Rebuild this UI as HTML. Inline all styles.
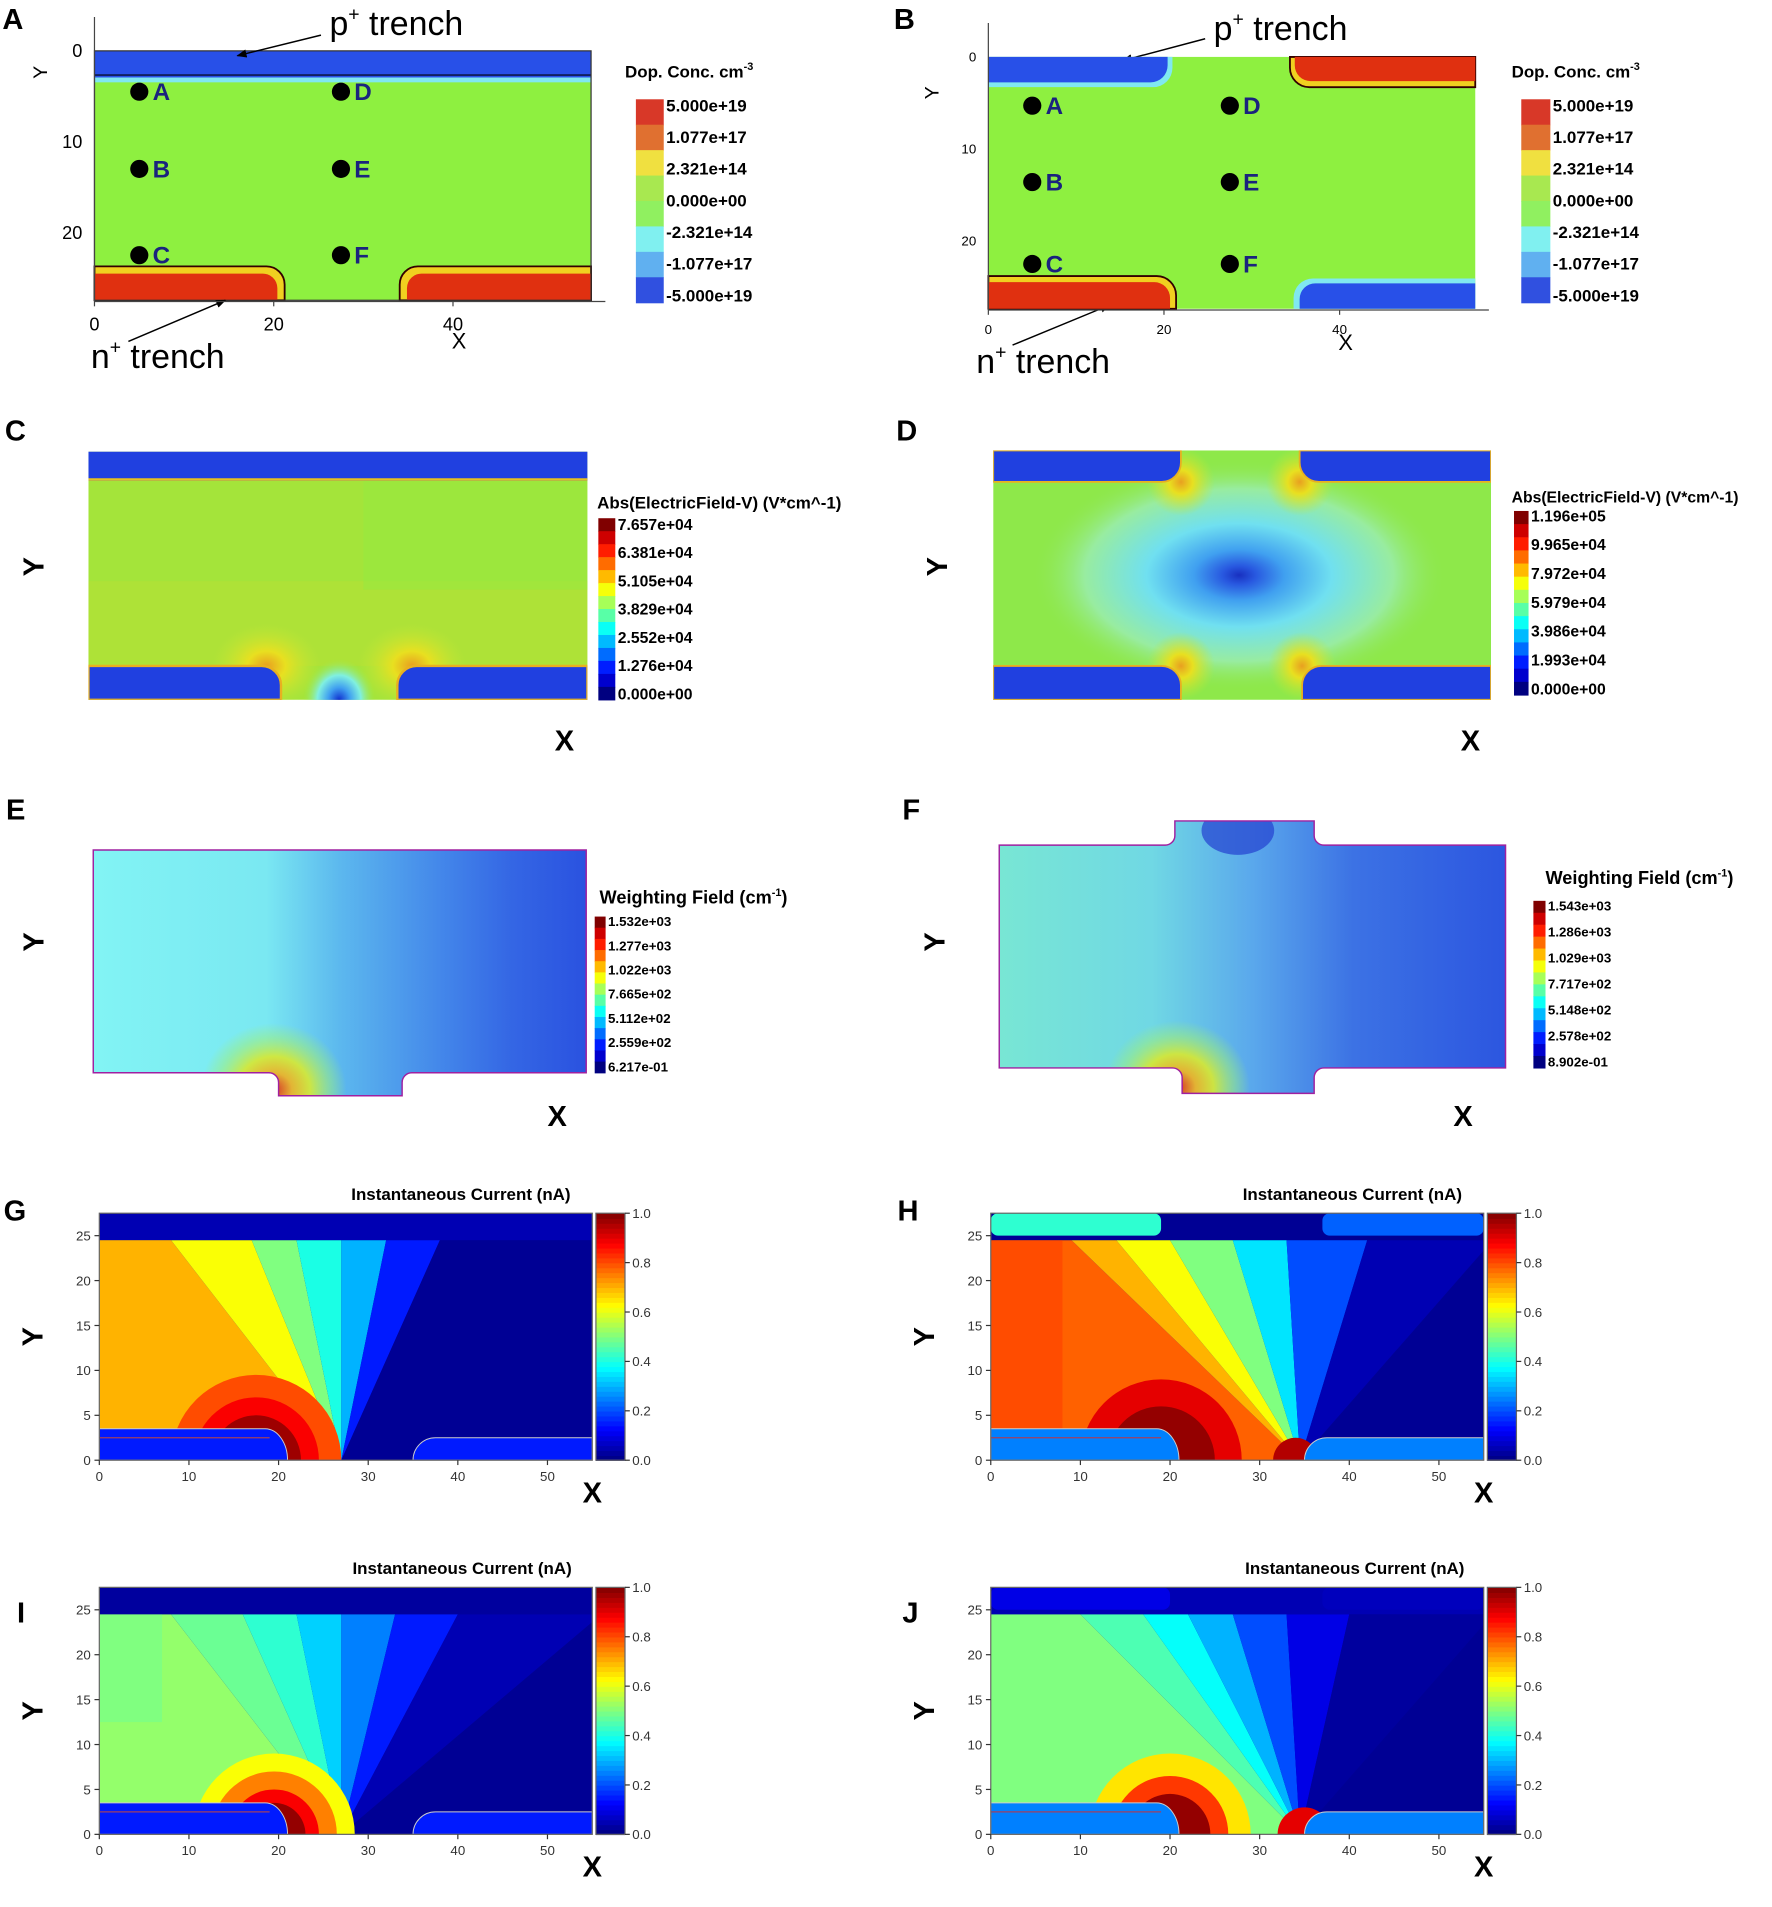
<!DOCTYPE html>
<html><head><meta charset="utf-8"><style>
html,body{margin:0;padding:0;background:#fff;}
svg{display:block;font-family:"Liberation Sans",sans-serif;}
</style></head><body>
<svg id="fig" width="1772" height="1907" viewBox="0 0 1463 1575" preserveAspectRatio="none" xmlns="http://www.w3.org/2000/svg">
<defs>
<marker id="arr" viewBox="0 0 10 10" refX="9" refY="5" markerWidth="7" markerHeight="7" orient="auto"><path d="M0,1 L10,5 L0,9 z" fill="#000"/></marker>
<linearGradient id="gE" x1="0" x2="1" y1="0" y2="0">
<stop offset="0" stop-color="#82f4f4"/><stop offset="0.35" stop-color="#7ae8f2"/><stop offset="0.5" stop-color="#5cb8ee"/><stop offset="0.7" stop-color="#4488ea"/><stop offset="0.85" stop-color="#3466e4"/><stop offset="1" stop-color="#2a52e0"/></linearGradient>
<linearGradient id="gF" x1="0" x2="1" y1="0" y2="0">
<stop offset="0" stop-color="#78e6d4"/><stop offset="0.3" stop-color="#70d8e4"/><stop offset="0.5" stop-color="#5aa8ec"/><stop offset="0.7" stop-color="#3c72e4"/><stop offset="1" stop-color="#2c56e0"/></linearGradient>
<radialGradient id="hot"><stop offset="0" stop-color="#e02010"/><stop offset="0.25" stop-color="#f0b020"/><stop offset="0.5" stop-color="#d8e830"/><stop offset="0.8" stop-color="#a0f070" stop-opacity="0.5"/><stop offset="1" stop-color="#a0f070" stop-opacity="0"/></radialGradient>
<radialGradient id="halo"><stop offset="0" stop-color="#e8a020"/><stop offset="0.35" stop-color="#e8e020"/><stop offset="1" stop-color="#c0e838" stop-opacity="0"/></radialGradient>
<radialGradient id="dspot"><stop offset="0" stop-color="#1830c0"/><stop offset="0.08" stop-color="#2858e0"/><stop offset="0.22" stop-color="#40a0f0"/><stop offset="0.45" stop-color="#70e0f0"/><stop offset="0.75" stop-color="#98eca0"/><stop offset="1" stop-color="#90e850" stop-opacity="0"/></radialGradient>
<radialGradient id="cspot"><stop offset="0" stop-color="#1030d0"/><stop offset="0.3" stop-color="#40a0f0"/><stop offset="0.6" stop-color="#80f0e0"/><stop offset="1" stop-color="#a0e840" stop-opacity="0"/></radialGradient>
<clipPath id="clipC"><rect x="73" y="373" width="412" height="205"/></clipPath>
<clipPath id="clipD"><rect x="820" y="372" width="411" height="206"/></clipPath>
<clipPath id="clipE"><path d="M77,702 H484 V886 H340 A8,8 0 0 0 332,894 V905 H230 V894 A8,8 0 0 0 222,886 H77 Z"/></clipPath>
<clipPath id="clipF"><path d="M825,698 H962 A8,8 0 0 0 970,690 V678 H1085 V690 A8,8 0 0 0 1093,698 H1243 V882 H1093 A8,8 0 0 0 1085,890 V903 H976 V890 A8,8 0 0 0 968,882 H825 Z"/></clipPath>
</defs>

<g font-weight="bold" font-size="24" fill="#000">
<text x="2" y="24">A</text>
<text x="738" y="24">B</text>
<text x="4" y="364">C</text>
<text x="740" y="364">D</text>
<text x="5" y="677">E</text>
<text x="745" y="677">F</text>
<text x="3" y="1008">G</text>
<text x="741" y="1008">H</text>
<text x="14" y="1340">I</text>
<text x="745" y="1340">J</text>
</g>

<!-- Panel A -->
<g>
<rect x="78" y="42" width="410" height="206" fill="#8ef040"/>
<rect x="78" y="42" width="410" height="22" fill="#2850e8"/>
<line x1="78" y1="62" x2="488" y2="62" stroke="#102060" stroke-width="1.5"/>
<rect x="78" y="64" width="410" height="4" fill="#80e8f0"/>
<path d="M78,220 H220 A15,15 0 0 1 235,235 V248 H78 Z" fill="#f0d020" stroke="#300" stroke-width="1.5"/>
<path d="M78,226 H216 A12,12 0 0 1 229,238 V248 H78 Z" fill="#e03010"/>
<path d="M488,220 H345 A15,15 0 0 0 330,235 V248 H488 Z" fill="#f0d020" stroke="#300" stroke-width="1.5"/>
<path d="M488,226 H349 A12,12 0 0 0 336,238 V248 H488 Z" fill="#e03010"/>
<rect x="78" y="42" width="410" height="206" fill="none" stroke="#333" stroke-width="1"/>
</g>
<g font-size="28" fill="#000">
<text x="272" y="29">p<tspan font-size="16" dy="-12">+</tspan><tspan dy="12"> trench</tspan></text>
<text x="75" y="304">n<tspan font-size="16" dy="-12">+</tspan><tspan dy="12"> trench</tspan></text>
<text x="1002" y="33">p<tspan font-size="16" dy="-12">+</tspan><tspan dy="12"> trench</tspan></text>
<text x="806" y="308">n<tspan font-size="16" dy="-12">+</tspan><tspan dy="12"> trench</tspan></text>
</g>
<line x1="265" y1="29" x2="196" y2="46" stroke="#000" stroke-width="1.2" marker-end="url(#arr)"/>
<line x1="106" y1="282" x2="186" y2="248" stroke="#000" stroke-width="1.2" marker-end="url(#arr)"/>
<line x1="995" y1="32" x2="927" y2="50" stroke="#000" stroke-width="1.2" marker-end="url(#arr)"/>
<line x1="836" y1="285" x2="916" y2="252" stroke="#000" stroke-width="1.2" marker-end="url(#arr)"/>

<!-- Panel B -->
<g>
<rect x="816" y="47" width="402" height="208" fill="#8ef040"/>
<path d="M816,47 H968 V56 A16,16 0 0 1 952,72 H816 Z" fill="#80e8f0"/>
<path d="M816,47 H964 V54 A14,14 0 0 1 950,68 H816 Z" fill="#2850e8"/>
<path d="M1218,47 H1065 V56 A16,16 0 0 0 1081,72 H1218 Z" fill="#f0d020" stroke="#300" stroke-width="1.5"/>
<path d="M1218,47 H1069 V54 A13,13 0 0 0 1082,67 H1218 Z" fill="#e03010"/>
<path d="M816,228 H955 A16,16 0 0 1 971,244 V255 H816 Z" fill="#f0d020" stroke="#300" stroke-width="1.5"/>
<path d="M816,233 H953 A13,13 0 0 1 966,246 V255 H816 Z" fill="#e03010"/>
<path d="M1218,230 H1084 A16,16 0 0 0 1068,246 V255 H1218 Z" fill="#80e8f0"/>
<path d="M1218,234 H1086 A13,13 0 0 0 1073,247 V255 H1218 Z" fill="#2850e8"/>
</g>
<g id="axesAB"></g>

<!-- Panel C -->
<g clip-path="url(#clipC)">
<rect x="73" y="373" width="412" height="205" fill="#a4e43a"/>
<rect x="73" y="480" width="412" height="70" fill="#b8e034" opacity="0.5"/>
<rect x="300" y="397" width="185" height="90" fill="#98ea40" opacity="0.6"/>
<ellipse cx="220" cy="550" rx="45" ry="35" fill="url(#halo)"/>
<ellipse cx="340" cy="550" rx="45" ry="35" fill="url(#halo)"/>
<ellipse cx="280" cy="578" rx="30" ry="34" fill="url(#cspot)"/>
<rect x="73" y="373" width="412" height="24" fill="#2040e0"/>
<line x1="73" y1="396" x2="485" y2="396" stroke="#e8c020" stroke-width="2"/>
<path d="M73,550 H216 A16,16 0 0 1 232,566 V578 H73 Z" fill="#2040e0" stroke="#e8b020" stroke-width="2"/>
<path d="M485,550 H344 A16,16 0 0 0 328,566 V578 H485 Z" fill="#2040e0" stroke="#e8b020" stroke-width="2"/>
</g>
<!-- Panel D -->
<g clip-path="url(#clipD)">
<rect x="820" y="372" width="411" height="206" fill="#8ee84a"/>
<ellipse cx="1023" cy="475" rx="170" ry="95" fill="url(#dspot)"/>
<ellipse cx="975" cy="398" rx="28" ry="28" fill="url(#halo)"/>
<ellipse cx="1073" cy="398" rx="28" ry="28" fill="url(#halo)"/>
<ellipse cx="975" cy="550" rx="28" ry="28" fill="url(#halo)"/>
<ellipse cx="1075" cy="550" rx="28" ry="28" fill="url(#halo)"/>
<path d="M820,372 H975 V382 A16,16 0 0 1 959,398 H820 Z" fill="#2040e0" stroke="#e8b020" stroke-width="1.5"/>
<path d="M1231,372 H1073 V382 A16,16 0 0 0 1089,398 H1231 Z" fill="#2040e0" stroke="#e8b020" stroke-width="1.5"/>
<path d="M820,550 H959 A16,16 0 0 1 975,566 V578 H820 Z" fill="#2040e0" stroke="#e8b020" stroke-width="1.5"/>
<path d="M1231,550 H1091 A16,16 0 0 0 1075,566 V578 H1231 Z" fill="#2040e0" stroke="#e8b020" stroke-width="1.5"/>
</g>
<!-- Panel E -->
<g>
<g clip-path="url(#clipE)">
<rect x="77" y="678" width="407" height="230" fill="url(#gE)"/>
<ellipse cx="226" cy="900" rx="60" ry="55" fill="url(#hot)" opacity="0.9"/>
</g>
<path d="M77,702 H484 V886 H340 A8,8 0 0 0 332,894 V905 H230 V894 A8,8 0 0 0 222,886 H77 Z" fill="none" stroke="#a020a0" stroke-width="1.2"/>
</g>
<!-- Panel F -->
<g>
<g clip-path="url(#clipF)">
<rect x="825" y="676" width="418" height="230" fill="url(#gF)"/>
<ellipse cx="1022" cy="686" rx="30" ry="20" fill="#2440d0" opacity="0.7"/>
<ellipse cx="972" cy="898" rx="60" ry="55" fill="url(#hot)" opacity="0.9"/>
</g>
<path d="M825,698 H962 A8,8 0 0 0 970,690 V678 H1085 V690 A8,8 0 0 0 1093,698 H1243 V882 H1093 A8,8 0 0 0 1085,890 V903 H976 V890 A8,8 0 0 0 968,882 H825 Z" fill="none" stroke="#a020a0" stroke-width="1.2"/>
</g>

<g id="colorbars"></g>
<g id="current"></g>
<g id="axisletters" font-weight="bold" font-size="24" fill="#000"></g>
</svg>
<script>
const NS="http://www.w3.org/2000/svg";
function mk(tag,attrs,parent,txt){const e=document.createElementNS(NS,tag);for(const k in attrs)e.setAttribute(k,attrs[k]);if(txt!==undefined)e.textContent=txt;parent.appendChild(e);return e;}
function jet(v){v=Math.max(0,Math.min(1,v));const r=Math.max(0,Math.min(1,1.5-Math.abs(4*v-3))),g=Math.max(0,Math.min(1,1.5-Math.abs(4*v-2))),b=Math.max(0,Math.min(1,1.5-Math.abs(4*v-1)));return `rgb(${Math.round(r*255)},${Math.round(g*255)},${Math.round(b*255)})`;}

// ---------- Data arrays ----------
const dotLabels=["A","B","C","D","E","F"];
const dotX=[5,5,5,27.5,27.5,27.5];
const dotYA=[4.5,13,22.5,4.5,13,22.5];
const dotYB=[5.3,13.6,22.5,5.3,13.6,22.5];
const ticksAxAB=[0,20,40];
const ticksAyAB=[0,10,20];
const dopLabels=["5.000e+19","1.077e+17","2.321e+14","0.000e+00","-2.321e+14","-1.077e+17","-5.000e+19"];
const dopColors=["#d83828","#e07030","#f0e040","#a8e850","#90f060","#80f0f0","#60b0f0","#3050e0"];
const efCLabels=["7.657e+04","6.381e+04","5.105e+04","3.829e+04","2.552e+04","1.276e+04","0.000e+00"];
const efDLabels=["1.196e+05","9.965e+04","7.972e+04","5.979e+04","3.986e+04","1.993e+04","0.000e+00"];
const wfELabels=["1.532e+03","1.277e+03","1.022e+03","7.665e+02","5.112e+02","2.559e+02","6.217e-01"];
const wfFLabels=["1.543e+03","1.286e+03","1.029e+03","7.717e+02","5.148e+02","2.578e+02","8.902e-01"];
const curTicksX=[0,10,20,30,40,50];
const curTicksY=[0,5,10,15,20,25];
const cbTicks=[0,0.2,0.4,0.6,0.8,1.0];
const gFanEdges=[0,8,17,22,27,32,38,56];
const gFanVals=[0.7,0.62,0.5,0.4,0.3,0.15,0.02];
const gHotR=[9.5,7,5];const gHotV=[0.8,0.88,0.97];
const hFanEdges=[0,9,14,20,27,33,42,56];
const hFanVals=[0.78,0.7,0.62,0.5,0.35,0.2,0.05];
const hHotR=[9,6];const hHotV=[0.9,0.98];
const iFanEdges=[0,8,16,22,27,33,40,56];
const iFanVals=[0.52,0.48,0.42,0.33,0.25,0.15,0.05];
const iHotR=[9,7,5,3.5];const iHotV=[0.62,0.75,0.88,0.98];
const jFanEdges=[0,10,17,22,27,33,40,56];
const jFanVals=[0.5,0.45,0.38,0.3,0.2,0.1,0.03];
const jHotR=[9,6.5,4.5];const jHotV=[0.65,0.82,0.98];

const ax=document.getElementById('axesAB');
function drawAB(p){
  const sx=v=>p.x0+v*p.kx, sy=v=>p.y0+v*p.ky;
  const g=mk('g',{},ax);
  
  
  mk('line',{x1:p.x0,y1:p.yb+1,x2:p.x0+57*p.kx,y2:p.yb+1,stroke:'#444','stroke-width':1},g);
  mk('line',{x1:p.x0,y1:p.y0-28,x2:p.x0,y2:p.yb+1,stroke:'#444','stroke-width':1},g);
  ticksAxAB.forEach(t=>{mk('line',{x1:sx(t),y1:p.yb+1,x2:sx(t),y2:p.yb+5,stroke:'#444'},g);
    const tl=mk('text',{x:sx(t),y:p.yb+p.fs+10,'font-size':p.fs,'text-anchor':'middle'},g,t);
    });
  ticksAyAB.forEach(t=>{const tl=mk('text',{x:p.x0-10,y:sy(t)+p.fs*0.35,'font-size':p.fs,'text-anchor':'end'},g,t);
    });
  for(let i=0;i<6;i++){const d=dotLabels[i];
    const c=mk('circle',{cx:sx(dotX[i]),cy:sy(p.dy[i]),r:7.5,fill:'#000'},g);
    
    const t=mk('text',{x:sx(dotX[i])+11,y:sy(p.dy[i])+7,'font-size':20,'font-weight':'bold',fill:'#1a237e'},g,d);
    }
  const X=mk('text',{x:p.xl[0],y:p.xl[1],'font-size':18},g,'X');
  const Y=mk('text',{x:0,y:0,'font-size':16,transform:`translate(${p.yl[0]},${p.yl[1]}) rotate(-90)`},g,'Y');
}
drawAB({name:'panel-a',x0:78,y0:42,kx:7.4,ky:7.5,yb:248,fs:15,dy:dotYA,xl:[373,288],yl:[39,65]});
drawAB({name:'panel-b',x0:816,y0:47,kx:7.25,ky:7.6,yb:255,fs:11,dy:dotYB,xl:[1105,289],yl:[775,82]});

const cbg=document.getElementById('colorbars');
function stepBar(p){
  const g=mk('g',{},cbg);
  
  
  const n=p.colors.length,h=(p.y1-p.y0)/n;
  p.colors.forEach((c,i)=>mk('rect',{x:p.x,y:p.y0+i*h,width:p.w,height:h+0.5,fill:c},g));
  const t=mk('text',{x:p.tx,y:p.ty,'font-size':p.tfs,'font-weight':'bold'},g);t.innerHTML=p.title;
  
  const m=p.labels.length;
  p.labels.forEach((l,i)=>{const yy=p.ly0+i*(p.ly1-p.ly0)/(m-1);
    const e=mk('text',{x:p.x+p.w+2,y:yy+p.lfs*0.35,'font-size':p.lfs,'font-weight':'bold'},g,l);
    });
}
const efColors=[];for(let i=0;i<14;i++)efColors.push(jet(1-i/13));
const wfColors=efColors;
stepBar({name:'colorbar-a',x:525,w:23,y0:82,y1:250,colors:dopColors,labels:dopLabels,ly0:87,ly1:244,lfs:14,title:'Dop. Conc. cm<tspan font-size="9" dy="-6">-3</tspan>',tx:516,ty:64,tfs:14});
stepBar({name:'colorbar-b',x:1256,w:24,y0:82,y1:250,colors:dopColors,labels:dopLabels,ly0:87,ly1:244,lfs:14,title:'Dop. Conc. cm<tspan font-size="9" dy="-6">-3</tspan>',tx:1248,ty:64,tfs:14});
stepBar({name:'colorbar-c',x:494,w:14,y0:428,y1:578,colors:efColors,labels:efCLabels,ly0:433,ly1:573,lfs:13,title:'Abs(ElectricField-V) (V*cm^-1)',tx:493,ty:420,tfs:14});
stepBar({name:'colorbar-d',x:1250,w:12,y0:422,y1:574,colors:efColors,labels:efDLabels,ly0:426,ly1:569,lfs:13,title:'Abs(ElectricField-V) (V*cm^-1)',tx:1248,ty:415,tfs:13});
stepBar({name:'colorbar-e',x:491,w:9,y0:757,y1:886,colors:wfColors,labels:wfELabels,ly0:761,ly1:881,lfs:11,title:'Weighting Field  (cm<tspan font-size="9" dy="-6">-1</tspan><tspan dy="6">)</tspan>',tx:495,ty:746,tfs:15});
stepBar({name:'colorbar-f',x:1266,w:10,y0:744,y1:882,colors:wfColors,labels:wfFLabels,ly0:748,ly1:877,lfs:11,title:'Weighting Field  (cm<tspan font-size="9" dy="-6">-1</tspan><tspan dy="6">)</tspan>',tx:1276,ty:730,tfs:15});

const al=document.getElementById('axisletters');
[[22,476,'Y','rotate'],[458,620,'X'],[768,476,'Y','rotate'],[1206,620,'X'],
 [22,786,'Y','rotate'],[452,930,'X'],[766,786,'Y','rotate'],[1200,930,'X']].forEach(a=>{
  const t=a[3]?mk('text',{transform:`translate(${a[0]+14},${a[1]-8}) rotate(-90)`,'text-anchor':'middle'},al,a[2]):mk('text',{x:a[0],y:a[1]},al,a[2]);
  
  
});

const cur=document.getElementById('current');
function currentPanel(p){
  const W=407,H=204;
  const sx=v=>p.x0+v*W/55, sy=v=>p.y0+H-v*H/27.5;
  const g=mk('g',{},cur);
  
  
  const cid='clip'+p.name;
  const cp=mk('clipPath',{id:cid},g);mk('rect',{x:p.x0,y:p.y0,width:W,height:H},cp);
  const f=mk('g',{'clip-path':`url(#${cid})`},g);
  mk('rect',{x:p.x0,y:p.y0,width:W,height:H,fill:jet(0.02)},f);
  for(let i=0;i<p.fan.vals.length;i++){
    const a=p.fan.edges[i],b=p.fan.edges[i+1];
    const fx=p.focus;
    const pts=[[fx,0],[a,24.5],[b,24.5]];
    if(i===0)pts.splice(1,0,[0,0],[0,24.5]);
    const poly=mk('polygon',{points:pts.map(q=>sx(q[0])+','+sy(q[1])).join(' '),fill:jet(p.fan.vals[i])},f);
    
    
  }
  if(p.left){const r=mk('rect',{x:sx(0),y:sy(p.left.top),width:sx(p.left.w)-sx(0),height:sy(p.left.bot)-sy(p.left.top),fill:jet(p.left.v)},f);
    }
  p.hot.r.forEach((r,i)=>{const c=mk('ellipse',{cx:sx(p.hot.x),cy:sy(0),rx:sx(r)-sx(0),ry:sy(0)-sy(r),fill:jet(p.hot.v[i])},f);
    });
  if(p.hot2){const c=mk('ellipse',{cx:sx(p.hot2[0]),cy:sy(0),rx:sx(p.hot2[1])-sx(0),ry:sy(0)-sy(p.hot2[1]),fill:jet(p.hot2[2])},f);
    }
  mk('rect',{x:p.x0,y:p.y0,width:W,height:sy(24.5)-p.y0,fill:p.topFill},f);
  (p.topTr||[]).forEach(t=>mk('rect',{x:sx(t[0]),y:p.y0,width:sx(t[1])-sx(t[0]),height:sy(25)-p.y0,fill:t[2],rx:6},f));
  mk('path',{d:`M${sx(0)},${sy(3.5)} H${sx(18.5)} A${sx(2.5)-sx(0)},${sy(0)-sy(3.5)} 0 0 1 ${sx(21)},${sy(0)} H${sx(0)} Z`,fill:p.trFill,stroke:'#ccc','stroke-width':0.8},f);
  mk('line',{x1:sx(0),y1:sy(2.5),x2:sx(19),y2:sy(2.5),stroke:'#a04060','stroke-width':1},f);
  mk('path',{d:`M${sx(55)},${sy(2.5)} H${sx(37.5)} A${sx(2.5)-sx(0)},${sy(0)-sy(2.5)} 0 0 0 ${sx(35)},${sy(0)} H${sx(55)} Z`,fill:p.trFill,stroke:'#ccc','stroke-width':0.8},f);
  mk('rect',{x:p.x0,y:p.y0,width:W,height:H,fill:'none',stroke:'#666','stroke-width':1},g);
  curTicksX.forEach(t=>{mk('line',{x1:sx(t),y1:p.y0+H,x2:sx(t),y2:p.y0+H+4,stroke:'#333'},g);
    const e=mk('text',{x:sx(t),y:p.y0+H+17,'font-size':11,'text-anchor':'middle',fill:'#333'},g,t);
    });
  curTicksY.forEach(t=>{mk('line',{x1:p.x0-4,y1:sy(t),x2:p.x0,y2:sy(t),stroke:'#333'},g);
    const e=mk('text',{x:p.x0-7,y:sy(t)+4,'font-size':11,'text-anchor':'end',fill:'#333'},g,t);
    });
  const cx=p.x0+W+3,cw=24;
  for(let i=0;i<50;i++)mk('rect',{x:cx,y:p.y0+H-(i+1)*H/50,width:cw,height:H/50+0.6,fill:jet((i+0.5)/50)},g);
  mk('rect',{x:cx,y:p.y0,width:cw,height:H,fill:'none',stroke:'#666'},g);
  cbTicks.forEach(t=>{const yy=p.y0+H-t*H;mk('line',{x1:cx+cw,y1:yy,x2:cx+cw+4,y2:yy,stroke:'#333'},g);
    const e=mk('text',{x:cx+cw+6,y:yy+4,'font-size':11,fill:'#333'},g,t.toFixed(1));
    });
  const ti=mk('text',{x:p.tx,y:p.y0-11,'font-size':14,'font-weight':'bold'},g,'Instantaneous Current (nA)');
  
  const X=mk('text',{x:p.x0+W-8,y:p.y0+H+35,'font-size':24,'font-weight':'bold'},g,'X');
  
  const Y=mk('text',{'font-size':24,'font-weight':'bold','text-anchor':'middle',transform:`translate(${p.x0-47},${p.y0+H/2}) rotate(-90)`},g,'Y');
  
}
currentPanel({name:'panel-g-current',x0:82,y0:1002,tx:290,focus:27,fan:{edges:gFanEdges,vals:gFanVals},left:{top:24.5,bot:12.5,w:8,v:0.7},
  hot:{x:17.5,r:gHotR,v:gHotV},topFill:jet(0.05),trFill:jet(0.15)});
currentPanel({name:'panel-h-current',x0:818,y0:1002,tx:1026,focus:34.5,fan:{edges:hFanEdges,vals:hFanVals},left:{top:24.5,bot:3.5,w:8,v:0.8},
  hot:{x:19,r:hHotR,v:hHotV},hot2:[34,2.5,0.95],topFill:jet(0.02),topTr:[[0,19,jet(0.42)],[37,55,jet(0.22)]],trFill:jet(0.25)});
currentPanel({name:'panel-i-current',x0:82,y0:1311,tx:291,focus:27,fan:{edges:iFanEdges,vals:iFanVals},left:{top:24.5,bot:12.5,w:7,v:0.5},
  hot:{x:19.5,r:iHotR,v:iHotV},topFill:jet(0.03),trFill:jet(0.15)});
currentPanel({name:'panel-j-current',x0:818,y0:1311,tx:1028,focus:34.5,fan:{edges:jFanEdges,vals:jFanVals},left:null,
  hot:{x:20,r:jHotR,v:jHotV},hot2:[35,3,0.9],topFill:jet(0.05),topTr:[[0,20,jet(0.1)],[37,55,jet(0.06)]],trFill:jet(0.25)});
</script>
</body></html>
